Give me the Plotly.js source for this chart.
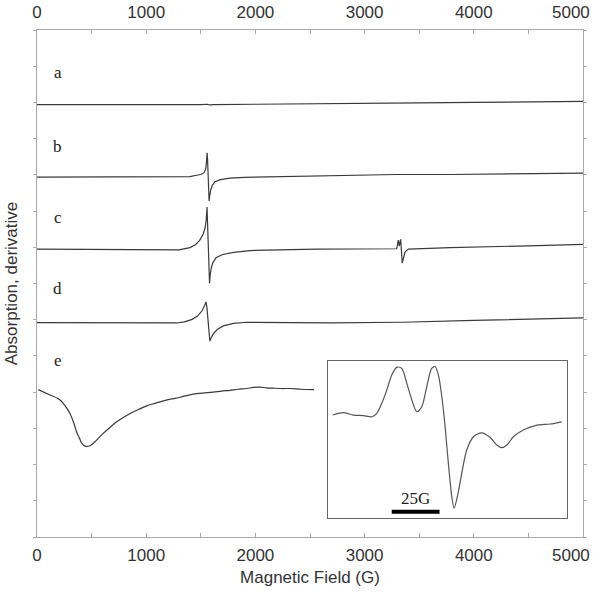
<!DOCTYPE html>
<html>
<head>
<meta charset="utf-8">
<script src="https://cdn.plot.ly/plotly-3.0.1.min.js"></script>
<style>html,body{margin:0;padding:0;background:#fff;}#chart{width:600px;height:594px;}</style>
</head>
<body>
<div id="chart"></div>
<script>
// Magnetic field (G) and offset derivative signals for spectra a–e
const aField = [0, 500, 1000, 1500, 1560, 1580, 1620, 2000, 2500, 3000, 3500, 4000, 4500, 5000];
const aSignal = [11.94, 11.93, 11.94, 11.94, 11.95, 11.93, 11.94, 11.95, 11.97, 11.98, 11.99, 12.00, 12.01, 12.03];

const bField = [0, 500, 1000, 1300, 1400, 1462, 1500, 1530, 1545, 1552, 1558, 1562, 1567, 1572, 1576, 1582, 1590, 1605, 1630, 1680, 1767, 1900, 2561, 3294, 3782, 4500, 5000];
const bSignal = [9.94, 9.94, 9.95, 9.94, 9.95, 9.99, 10.01, 10.06, 10.16, 10.36, 10.61, 10.41, 9.96, 9.52, 9.28, 9.42, 9.57, 9.71, 9.81, 9.87, 9.91, 9.93, 9.96, 10.01, 10.01, 10.03, 10.05];

const cField = [0, 500, 1000, 1300, 1400, 1450, 1490, 1520, 1540, 1550, 1557, 1563, 1569, 1575, 1580, 1586, 1595, 1610, 1640, 1700, 1800, 1951, 2561, 3294, 3309, 3318, 3330, 3345, 3370, 3400, 3782, 4500, 5000];
const cSignal = [7.95, 7.94, 7.93, 7.93, 7.99, 8.07, 8.19, 8.35, 8.54, 8.77, 9.11, 8.62, 7.92, 7.33, 7.01, 7.24, 7.42, 7.57, 7.71, 7.80, 7.86, 7.91, 7.95, 7.96, 8.20, 8.03, 8.22, 7.56, 7.87, 7.95, 7.99, 8.04, 8.08];

const dField = [0, 1000, 1279, 1350, 1420, 1470, 1510, 1535, 1548, 1556, 1565, 1575, 1583, 1595, 1615, 1650, 1706, 1800, 1920, 2683, 3350, 4000, 5000];
const dSignal = [5.92, 5.91, 5.91, 5.94, 6.01, 6.10, 6.24, 6.39, 6.49, 6.34, 5.99, 5.55, 5.41, 5.50, 5.61, 5.73, 5.83, 5.90, 5.93, 5.91, 5.93, 5.98, 6.05];

const eField = [12, 119, 200, 241, 302, 340, 363, 390, 409, 440, 485, 531, 570, 607, 670, 730, 790, 852, 930, 1004, 1080, 1157, 1230, 1310, 1390, 1462, 1540, 1615, 1690, 1767, 1840, 1920, 1980, 2042, 2100, 2164, 2240, 2317, 2420, 2537];
const eSignal = [4.07, 3.92, 3.81, 3.69, 3.41, 3.12, 2.90, 2.72, 2.59, 2.51, 2.52, 2.63, 2.75, 2.86, 3.03, 3.18, 3.30, 3.41, 3.52, 3.62, 3.69, 3.76, 3.81, 3.86, 3.92, 3.96, 3.98, 4.00, 4.03, 4.05, 4.08, 4.10, 4.13, 4.14, 4.12, 4.11, 4.10, 4.10, 4.08, 4.07];

// Inset: expanded view (relative field, G)
const insetField = [2.5, 8.0, 13.2, 18.5, 22.9, 25.5, 28.1, 30.7, 33.3, 35.9, 38.5, 41.2, 43.8, 46.4, 49.0, 51.6, 54.2, 56.0, 57.7, 59.5, 61.2, 62.9, 64.7, 65.9, 67.6, 69.9, 72.5, 76.0, 80.4, 84.7, 88.2, 90.8, 93.5, 96.9, 102.1, 109.2, 116.1, 122.2];
const insetSignal = [65.6, 67.1, 65.6, 65.2, 64.5, 66.7, 73.1, 81.5, 91.1, 96.0, 95.4, 85.8, 75.2, 67.7, 70.9, 83.6, 95.4, 96.4, 91.1, 77.3, 58.2, 34.8, 13.6, 6.2, 13.6, 28.5, 43.3, 51.8, 54.3, 51.4, 46.5, 44.8, 46.5, 51.8, 56.1, 59.2, 59.9, 61.3];
const scaleBarField = [33.3, 58.3];
const scaleBarLevel = [4.0, 4.0];
const scaleBarLabel = "25G";

const seriesLabels = ["a", "b", "c", "d", "e"];
const labelField = [192, 192, 192, 192, 192];
const labelLevel = [12.84, 10.78, 8.83, 6.87, 4.88];

const xTicks = [0, 1000, 2000, 3000, 4000, 5000];
// last tick label is drawn as an annotation so it can sit inside the page edge
const xTickText = xTicks.map((v, i) => i === xTicks.length - 1 ? "" : String(v));
const lastTickText = String(xTicks[xTicks.length - 1]);

const lineStyle = {color: "#3a3a3a", width: 1.2};
const mk = (x, y, smooth) => ({x: x, y: y, type: "scatter", mode: "lines",
  line: Object.assign({}, lineStyle, smooth ? {shape: "spline", smoothing: 0.8} : {}),
  xaxis: "x", yaxis: "y", showlegend: false, hoverinfo: "skip"});

const traces = [
  mk(aField, aSignal), mk(bField, bSignal), mk(cField, cSignal), mk(dField, dSignal), mk(eField, eSignal, true),
  {x: [0, 5000], y: [null, null], xaxis: "x2", yaxis: "y", type: "scatter", mode: "lines", showlegend: false, hoverinfo: "skip"},
  {x: insetField, y: insetSignal, xaxis: "x3", yaxis: "y3", type: "scatter", mode: "lines", line: {color: "#555", width: 1.2, shape: "spline", smoothing: 0.8}, showlegend: false, hoverinfo: "skip"},
  {x: scaleBarField, y: scaleBarLevel, xaxis: "x3", yaxis: "y3", type: "scatter", mode: "lines", line: {color: "#000", width: 4}, showlegend: false, hoverinfo: "skip"}
];

const serifFont = {family: "Liberation Serif, Times New Roman, serif", size: 17, color: "#222"};
const axisFont = {family: "Liberation Sans, Arial, sans-serif", size: 17, color: "#333"};

const annotations = seriesLabels.map((t, i) => ({
  text: t, x: labelField[i], y: labelLevel[i], xref: "x", yref: "y", showarrow: false, font: serifFont
}));
annotations.push({text: scaleBarLabel, x: (scaleBarField[0] + scaleBarField[1]) / 2, y: 12.5, xref: "x3", yref: "y3", showarrow: false, font: serifFont});
annotations.push({text: lastTickText, x: xTicks[xTicks.length - 1], y: 0, xref: "x", yref: "paper", xanchor: "right", yanchor: "middle", xshift: 9, yshift: -18, showarrow: false, font: axisFont});
annotations.push({text: lastTickText, x: xTicks[xTicks.length - 1], y: 1, xref: "x", yref: "paper", xanchor: "right", yanchor: "middle", xshift: 9, yshift: 17.5, showarrow: false, font: axisFont});

const layout = {
  width: 600, height: 594,
  margin: {l: 37, r: 17, t: 30, b: 57},
  paper_bgcolor: "#fff", plot_bgcolor: "#fff",
  font: axisFont,
  xaxis: {
    range: [0, 5000], tickvals: xTicks, ticktext: xTickText,
    showgrid: false, zeroline: false, showline: true, linecolor: "#aaa", linewidth: 1,
    ticks: "inside", ticklen: 4, tickcolor: "#aaa",
    minor: {dtick: 500, tick0: 0, ticks: "inside", ticklen: 4, tickcolor: "#aaa", showgrid: false},
    tickfont: axisFont, ticklabelstandoff: 3,
    title: {text: "Magnetic Field (G)", font: axisFont, standoff: 6},
    fixedrange: true
  },
  xaxis2: {
    overlaying: "x", side: "top", anchor: "y", matches: "x",
    range: [0, 5000], tickvals: xTicks, ticktext: xTickText,
    showgrid: false, zeroline: false, showline: true, linecolor: "#aaa", linewidth: 1,
    ticks: "inside", ticklen: 4, tickcolor: "#aaa",
    minor: {dtick: 500, tick0: 0, ticks: "inside", ticklen: 4, tickcolor: "#aaa", showgrid: false},
    tickfont: axisFont, ticklabelstandoff: 4
  },
  yaxis: {
    range: [0, 14], dtick: 1, tick0: 0, showticklabels: false,
    showgrid: false, zeroline: false, showline: true, linecolor: "#aaa", linewidth: 1,
    ticks: "outside", ticklen: 3, tickcolor: "#aaa", mirror: "ticks",
    title: {text: "Absorption, derivative", font: axisFont, standoff: 11},
    fixedrange: true
  },
  xaxis3: {
    domain: [0.533, 0.971], anchor: "y3", range: [0, 125],
    showgrid: false, zeroline: false, showticklabels: false, ticks: "",
    showline: true, mirror: true, linecolor: "#666", linewidth: 1
  },
  yaxis3: {
    domain: [0.0375, 0.347], anchor: "x3", range: [0, 100],
    showgrid: false, zeroline: false, showticklabels: false, ticks: "",
    showline: true, mirror: true, linecolor: "#666", linewidth: 1
  },
  annotations: annotations
};

Plotly.newPlot("chart", traces, layout, {staticPlot: true, displayModeBar: false});
</script>
</body>
</html>
